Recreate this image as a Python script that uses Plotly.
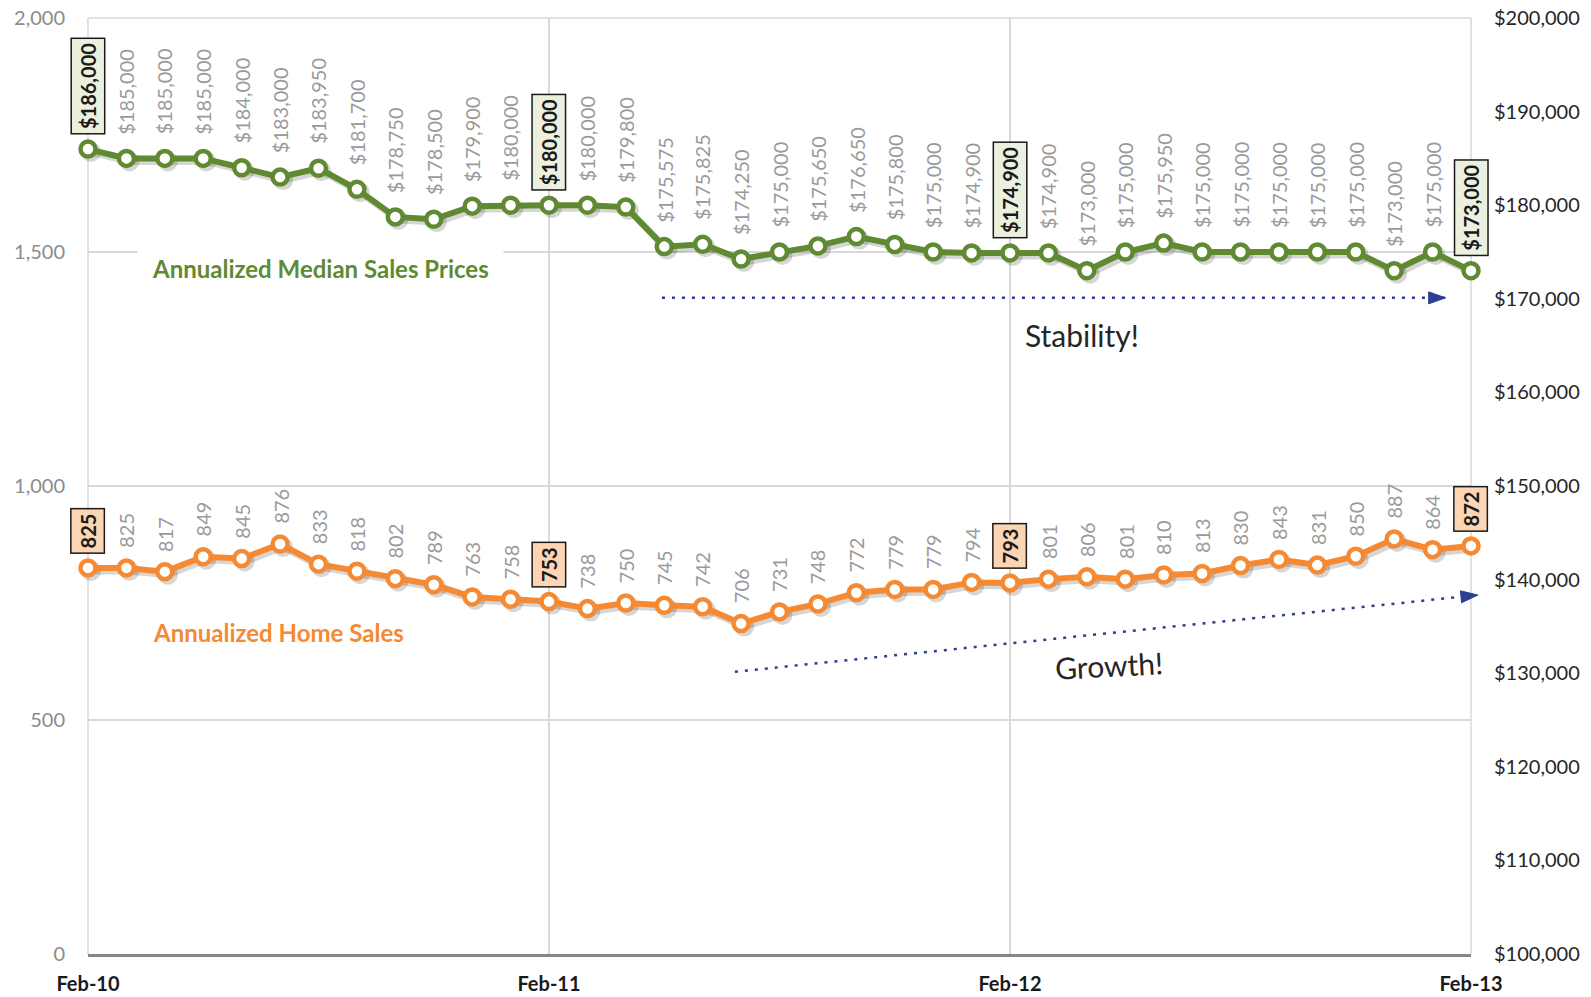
import math
import plotly.graph_objects as go

# ---------------- data ----------------
month_labels = ["Feb-10", "Mar-10", "Apr-10", "May-10", "Jun-10", "Jul-10", "Aug-10", "Sep-10",
                "Oct-10", "Nov-10", "Dec-10", "Jan-11", "Feb-11", "Mar-11", "Apr-11", "May-11",
                "Jun-11", "Jul-11", "Aug-11", "Sep-11", "Oct-11", "Nov-11", "Dec-11", "Jan-12",
                "Feb-12", "Mar-12", "Apr-12", "May-12", "Jun-12", "Jul-12", "Aug-12", "Sep-12",
                "Oct-12", "Nov-12", "Dec-12", "Jan-13", "Feb-13"]

home_sales = [825, 825, 817, 849, 845, 876, 833, 818, 802, 789, 763, 758, 753, 738, 750, 745,
              742, 706, 731, 748, 772, 779, 779, 794, 793, 801, 806, 801, 810, 813, 830, 843,
              831, 850, 887, 864, 872]

median_prices = [186000, 185000, 185000, 185000, 184000, 183000, 183950, 181700, 178750, 178500,
                 179900, 180000, 180000, 180000, 179800, 175575, 175825, 174250, 175000, 175650,
                 176650, 175800, 175000, 174900, 174900, 174900, 173000, 175000, 175950, 175000,
                 175000, 175000, 175000, 175000, 173000, 175000, 173000]

highlight_idx = [0, 12, 24, 36]
tick_idx = [0, 12, 24, 36]

# ---------------- style ----------------
FONT = "Lato, Carlito, Calibri, sans-serif"
GREEN = "#5f8a32"
ORANGE = "#f58a33"
GRID = "#d9d9d9"
LABEL_GRAY = "#9a9a9a"
ARROW = "#2e3f8f"

W, H = 1591, 997
ML, MR, MT, MB = 88, 120, 18, 43
PW, PH = W - ML - MR, H - MT - MB

x = list(range(len(month_labels)))
XMAX = len(month_labels) - 1
YMAX = 2000
P0, P1 = 100000, 200000

# shadow offsets (3 px right/down) expressed in data units
dx = 3 / PW * XMAX
dy_s = 3 / PH * YMAX
dy_p = 3 / PH * (P1 - P0)

fig = go.Figure()

fig.add_trace(go.Scatter(x=[v + dx for v in x], y=[v - dy_s for v in home_sales], mode="lines+markers",
                         line=dict(color="rgba(0,0,0,0.16)", width=7),
                         marker=dict(size=20, color="rgba(0,0,0,0.16)"),
                         hoverinfo="skip", showlegend=False, cliponaxis=False))
fig.add_trace(go.Scatter(x=x, y=home_sales, mode="lines+markers",
                         line=dict(color=ORANGE, width=6),
                         marker=dict(size=15, color="white", line=dict(color=ORANGE, width=4.5)),
                         name="Annualized Home Sales", showlegend=False, cliponaxis=False))
fig.add_trace(go.Scatter(x=[v + dx for v in x], y=[v - dy_p for v in median_prices], yaxis="y2",
                         mode="lines+markers",
                         line=dict(color="rgba(0,0,0,0.16)", width=7),
                         marker=dict(size=20, color="rgba(0,0,0,0.16)"),
                         hoverinfo="skip", showlegend=False, cliponaxis=False))
fig.add_trace(go.Scatter(x=x, y=median_prices, yaxis="y2", mode="lines+markers",
                         line=dict(color=GREEN, width=6),
                         marker=dict(size=15, color="white", line=dict(color=GREEN, width=4.5)),
                         name="Annualized Median Sales Prices", showlegend=False, cliponaxis=False))

annotations = []
for i, v in enumerate(home_sales):
    hl = i in highlight_idx
    a = dict(x=i, y=v, xref="x", yref="y", textangle=-90, showarrow=False,
             xanchor="center", yanchor="bottom")
    if hl:
        a.update(text=f"<b>{v:,}</b>", yshift=14, font=dict(family=FONT, size=20, color="#1a1a1a"),
                 bgcolor="#fcd5b4", bordercolor="#1a1a1a", borderwidth=1.5, borderpad=4)
    else:
        a.update(text=f"{v:,}", yshift=18, font=dict(family=FONT, size=20, color=LABEL_GRAY))
    annotations.append(a)

for i, v in enumerate(median_prices):
    hl = i in highlight_idx
    a = dict(x=i, y=v, xref="x", yref="y2", textangle=-90, showarrow=False,
             xanchor="center", yanchor="bottom")
    if hl:
        a.update(text=f"<b>${v:,}</b>", yshift=14, font=dict(family=FONT, size=20, color="#1a1a1a"),
                 bgcolor="#ebf1de", bordercolor="#1a1a1a", borderwidth=1.5, borderpad=4)
    else:
        a.update(text=f"${v:,}", yshift=22, font=dict(family=FONT, size=20, color=LABEL_GRAY))
    annotations.append(a)

annotations += [
    dict(x=6.04, y=1464, xref="x", yref="y", text="<b>Annualized Median Sales Prices</b>",
         showarrow=False, font=dict(family=FONT, size=24, color=GREEN), bgcolor="white", borderpad=14),
    dict(x=4.95, y=686, xref="x", yref="y", text="<b>Annualized Home Sales</b>",
         showarrow=False, font=dict(family=FONT, size=24, color=ORANGE), bgcolor="white", borderpad=6),
    dict(x=25.87, y=1323, xref="x", yref="y", text="Stability!",
         showarrow=False, font=dict(family=FONT, size=30, color="#262626")),
    dict(x=26.57, y=618, xref="x", yref="y", text="Growth!", textangle=-3,
         showarrow=False, font=dict(family=FONT, size=30, color="#262626")),
]


def px(i):
    return i / XMAX


def py(v):
    return v / YMAX


shapes = []
# edge grid lines (plotly hides grid lines that sit on the plot edges)
for gx in (0, 1):
    shapes.append(dict(type="line", xref="paper", yref="paper", x0=gx, x1=gx, y0=0, y1=1,
                       line=dict(color=GRID, width=1.5), layer="below"))
shapes.append(dict(type="line", xref="paper", yref="paper", x0=0, x1=1, y0=1, y1=1,
                   line=dict(color=GRID, width=1.5), layer="below"))

arrows = [((14.94, 1402), (35.34, 1402)), ((16.84, 603), (36.18, 767))]
for (i0, v0), (i1, v1) in arrows:
    shapes.append(dict(type="line", xref="paper", yref="paper", x0=px(i0), y0=py(v0),
                       x1=px(i1), y1=py(v1), line=dict(color=ARROW, width=2.5, dash="3px,7px")))
    ang = math.atan2((py(v1) - py(v0)) * PH, (px(i1) - px(i0)) * PW)
    L, Wd = 17, 6
    cx, sx = math.cos(ang), math.sin(ang)
    bx, by = -L * cx, -L * sx
    p1 = (bx - Wd * (-sx), by - Wd * cx)
    p2 = (bx + Wd * (-sx), by + Wd * cx)
    path = f"M0,0 L{p1[0]:.2f},{p1[1]:.2f} L{p2[0]:.2f},{p2[1]:.2f} Z"
    shapes.append(dict(type="path", xref="paper", yref="paper", xsizemode="pixel", ysizemode="pixel",
                       xanchor=px(i1), yanchor=py(v1), path=path,
                       fillcolor=ARROW, line=dict(color=ARROW, width=1)))

fig.update_layout(
    width=W, height=H,
    margin=dict(l=ML, r=MR, t=MT, b=MB, autoexpand=False),
    plot_bgcolor="white", paper_bgcolor="white",
    font=dict(family=FONT),
    showlegend=False,
    xaxis=dict(range=[0, XMAX], tickvals=tick_idx, ticktext=[month_labels[i] for i in tick_idx],
               showgrid=True, gridcolor=GRID, gridwidth=1.5, zeroline=False, automargin=False,
               showline=True, linecolor="#868686", linewidth=2.5, ticks="",
               ticklabelstandoff=10,
               tickfont=dict(family=FONT, size=20, color="#1a1a1a", weight="bold")),
    yaxis=dict(range=[0, YMAX], tickvals=[0, 500, 1000, 1500, 2000], tickformat=",",
               showgrid=True, gridcolor=GRID, gridwidth=1.5, zeroline=False, showline=False,
               ticks="", ticklabelstandoff=22, automargin=False,
               tickfont=dict(family=FONT, size=20, color="#8c8c8c")),
    yaxis2=dict(range=[P0, P1], overlaying="y", side="right", dtick=10000, tickprefix="$",
                tickformat=",", showgrid=False, zeroline=False, showline=False, ticks="",
                ticklabelstandoff=22, automargin=False,
                tickfont=dict(family=FONT, size=20, color="#262626")),
    annotations=annotations,
    shapes=shapes,
)

fig.write_html("out.html", config={"displayModeBar": False},
               post_script="document.body.style.margin='0';document.body.style.overflow='hidden';")
